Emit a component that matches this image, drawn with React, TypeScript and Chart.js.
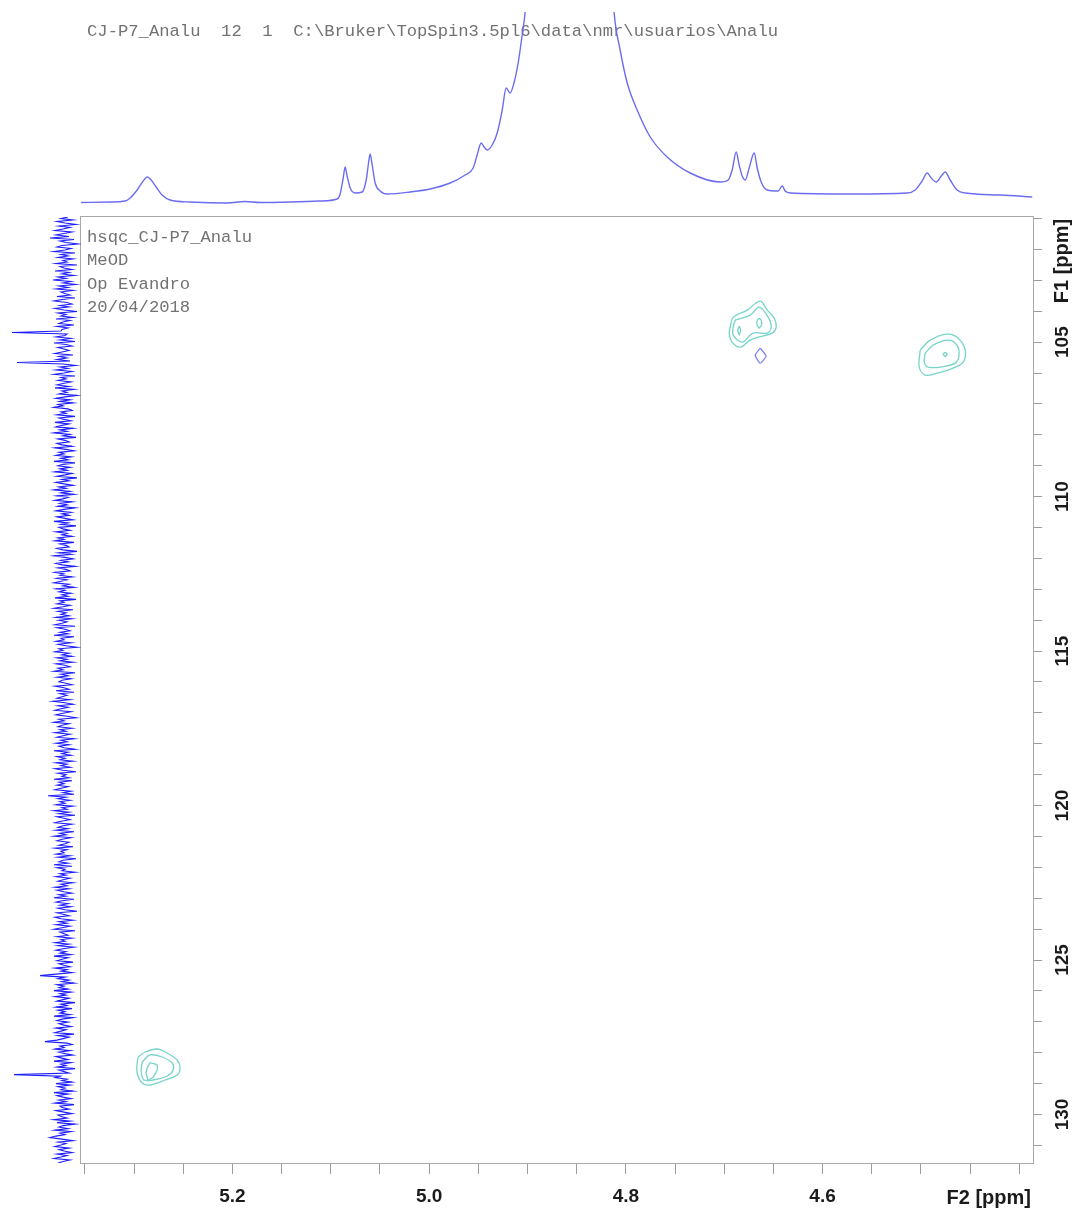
import React, { useEffect, useRef } from "react";
import { Chart, registerables } from "chart.js";

Chart.register(...registerables);

const PAGE_W = 1077;
const PAGE_H = 1210;

// ---- axis ranges (ppm) ----
const F2_MIN = 4.386;
const F2_MAX = 5.354;
const F1_MIN = 100.95;
const F1_MAX = 131.57;

// ---- ticks ----
const F2_TICKS = [5.35, 5.3, 5.25, 5.2, 5.15, 5.1, 5.05, 5.0, 4.95, 4.9, 4.85, 4.8, 4.75, 4.7, 4.65, 4.6, 4.55, 4.5, 4.45, 4.4];
const F2_LABEL_VALUES = [5.2, 5.0, 4.8, 4.6];
const F2_LABEL_TEXT = ["5.2", "5.0", "4.8", "4.6"];
const F1_TICKS = [101, 102, 103, 104, 105, 106, 107, 108, 109, 110, 111, 112, 113, 114, 115, 116, 117, 118, 119, 120, 121, 122, 123, 124, 125, 126, 127, 128, 129, 130, 131];
const F1_LABEL_VALUES = [105, 110, 115, 120, 125, 130];
const F1_LABEL_TEXT = ["105", "110", "115", "120", "125", "130"];
const F2_TITLE = "F2 [ppm]";
const F1_TITLE = "F1 [ppm]";

// ---- texts ----
const HEADER = "CJ-P7_Analu  12  1  C:\\Bruker\\TopSpin3.5pl6\\data\\nmr\\usuarios\\Analu";
const INFO_LINES = ["hsqc_CJ-P7_Analu", "MeOD", "Op Evandro", "20/04/2018"];

// ---- 1H projection (top) ----
const H1_PPM = [
  5.3539, 5.3244, 5.3091, 5.304, 5.2969, 5.2908, 5.2867, 5.2827, 5.2776, 5.2715, 5.2634, 5.243, 5.2054, 5.1871, 5.1718, 5.1413,
  5.1108, 5.0935, 5.0905, 5.0874, 5.0854, 5.0834, 5.0803, 5.0752, 5.0681, 5.064, 5.0615, 5.06, 5.0579, 5.0549, 5.0498, 5.0427,
  5.0193, 4.999, 4.9786, 4.9634, 4.9552, 4.9512, 4.9471, 4.9441, 4.941, 4.9359, 4.9308, 4.9257, 4.9217, 4.9176, 4.9135, 4.9095,
  4.9054, 4.9024, 4.8973, 4.8871, 4.8719, 4.8586, 4.8464, 4.8261, 4.8159, 4.8119, 4.8058, 4.7986, 4.7885, 4.7752, 4.758, 4.7346,
  4.7041, 4.6959, 4.6919, 4.6878, 4.6848, 4.6817, 4.6786, 4.6746, 4.6695, 4.6664, 4.6624, 4.6563, 4.6451, 4.641, 4.638, 4.6329,
  4.5719, 4.5139, 4.5058, 4.4987, 4.4936, 4.4895, 4.4844, 4.4793, 4.4753, 4.4702, 4.4631, 4.4549, 4.4193, 4.3868,
];
const H1_INT = [
  7.5, 8, 9, 12, 20, 29, 33, 30, 23, 15, 10, 8, 7, 8.5, 7.5, 8,
  9, 11, 16, 32, 43, 34, 22, 17, 18, 30, 48, 56, 45, 27, 19, 16,
  18, 21, 27, 35, 42, 55, 67, 63, 60, 65, 77, 100, 122, 117, 128, 147,
  175, 198, 280, 500, 1200, 2000, 1100, 400, 260, 197, 160, 127, 100, 73, 53, 37,
  28, 30, 40, 58, 45, 34, 30, 42, 57, 42, 28, 20, 19, 24, 19, 17,
  16, 17, 20, 29, 37, 32, 28, 34, 38, 30, 20, 17, 15, 13,
];
const H1_INT_MAX = 198;

// ---- 13C projection (left), uniformly sampled along F1 ----
const F1_PROJ_START = 100.95;
const F1_PROJ_STEP = 0.04853;
const C13_INT = [
  13, 20, 8, 24, 16, 5, 22, 11, 18, 26,
  9, 17, 25, 12, 31, 7, 21, 15, 3, 19,
  24, 10, 16, 27, 6, 20, 13, 23, 8, 18,
  14, 25, 4, 21, 17, 9, 26, 12, 19, 7,
  23, 15, 28, 10, 18, 5, 22, 13, 25, 8,
  20, 16, 11, 24, 6, 19, 27, 14, 9, 21,
  12, 26, 17, 4, 23, 15, 20, 8, 25, 11,
  18, 22, 7, 24, 13, 19, 20, 69, 14, 16,
  25, 10, 21, 6, 27, 15, 9, 23, 17, 12,
  19, 26, 8, 22, 14, 24, 11, 64, 18, 5,
  21, 13, 25, 9, 17, 27, 6, 20, 15, 23,
  10, 18, 24, 12, 26, 7, 19, 14, 22, 4,
  16, 25, 11, 21, 8, 23, 18, 27, 13, 9,
  20, 15, 24, 6, 22, 17, 10, 26, 12, 19,
  25, 8, 21, 14, 27, 11, 18, 5, 23, 16,
  12, 24, 19, 9, 26, 15, 7, 22, 17, 25,
  10, 20, 13, 27, 6, 18, 23, 11, 21, 14,
  26, 9, 16, 24, 4, 19, 12, 25, 17, 8,
  22, 15, 27, 11, 20, 7, 24, 13, 18, 26,
  9, 21, 14, 23, 6, 17, 25, 10, 19, 12,
  24, 16, 8, 27, 13, 20, 5, 22, 18, 11,
  25, 14, 19, 9, 23, 17, 26, 7, 21, 15,
  12, 24, 18, 4, 22, 10, 27, 16, 8, 20,
  13, 25, 19, 6, 23, 15, 11, 26, 17, 21,
  9, 24, 14, 20, 27, 12, 18, 7, 25, 16,
  22, 10, 19, 13, 26, 5, 21, 17, 24, 11,
  18, 27, 8, 23, 15, 20, 12, 25, 9, 22,
  14, 19, 26, 6, 24, 16, 11, 21, 13, 27,
  7, 20, 17, 25, 10, 23, 15, 4, 22, 18,
  26, 12, 19, 9, 24, 14, 21, 8, 25, 16,
  11, 23, 18, 27, 6, 20, 13, 24, 10, 19,
  22, 15, 9, 26, 17, 12, 25, 7, 21, 14,
  19, 24, 11, 28, 16, 8, 23, 13, 20, 26,
  10, 18, 25, 14, 5, 22, 17, 27, 12, 19,
  23, 9, 21, 15, 26, 11, 18, 24, 7, 20,
  14, 25, 12, 22, 17, 6, 27, 13, 19, 10,
  24, 16, 21, 8, 25, 14, 20, 11, 26, 18,
  5, 23, 15, 19, 12, 27, 9, 22, 17, 24,
  13, 20, 26, 10, 18, 7, 33, 15, 23, 11,
  21, 16, 25, 8, 19, 14, 27, 12, 22, 6,
  24, 17, 11, 20, 26, 9, 18, 23, 13, 25,
  7, 21, 15, 27, 10, 19, 24, 12, 16, 22,
  8, 26, 14, 20, 17, 25, 11, 23, 5, 18,
  22, 13, 27, 9, 24, 16, 19, 6, 21, 15,
  25, 11, 18, 23, 8, 20, 14, 26, 12, 24,
  17, 9, 22, 15, 27, 7, 19, 25, 13, 21,
  10, 23, 16, 4, 24, 18, 12, 26, 20, 8,
  22, 14, 25, 11, 19, 27, 6, 21, 17, 13,
  24, 9, 20, 16, 26, 12, 23, 7, 18, 25,
  15, 21, 10, 27, 13, 19, 24, 8, 22, 17,
  11, 26, 14, 20, 9, 25, 41, 16, 23, 12,
  19, 7, 24, 17, 22, 13, 27, 10, 21, 15,
  26, 12, 18, 24, 6, 20, 14, 25, 9, 23,
  16, 21, 11, 27, 8, 19, 24, 13, 22, 17,
  10, 25, 15, 20, 26, 7, 23, 12, 18, 24,
  36, 14, 9, 21, 17, 26, 11, 22, 16, 8,
  25, 19, 13, 27, 10, 20, 15, 24, 6, 22,
  17, 12, 67, 21, 26, 14, 19, 9, 25, 11,
  23, 16, 20, 8, 27, 13, 24, 18, 10, 22,
  15, 26, 7, 21, 19, 12, 25, 17, 9, 23,
  20, 14, 27, 11, 24, 6, 18, 22, 13, 26,
  10, 21, 16, 25, 31, 19, 8, 23, 15, 20,
  26, 12, 22, 17, 9, 24, 14, 20, 27, 11,
  18, 23,
];
const C13_INT_MAX = 81;

// ---- HSQC contours: [F2 ppm, F1 ppm] ----
const CONTOUR_A_OUTER: [number, number][] = [
  [4.6939, 104.515], [4.6908, 104.191], [4.6766, 103.964], [4.6634, 103.673], [4.6563, 103.964], [4.6492, 104.223],
  [4.6471, 104.515], [4.6512, 104.709], [4.6654, 104.838], [4.6736, 104.935], [4.6837, 105.162], [4.6919, 105.0], [4.6949, 104.709],
];
const CONTOUR_A_MID: [number, number][] = [
  [4.6888, 104.288], [4.6736, 104.126], [4.6644, 103.867], [4.6553, 104.191], [4.6522, 104.515], [4.6563, 104.709],
  [4.6705, 104.709], [4.6817, 105.0], [4.6908, 104.773], [4.6908, 104.515],
];
const CONTOUR_A_INNER1: [number, number][] = [
  [4.6644, 104.223], [4.6624, 104.288], [4.6619, 104.434], [4.6644, 104.547], [4.6664, 104.45], [4.6664, 104.288],
];
const CONTOUR_A_INNER2: [number, number][] = [
  [4.6847, 104.482], [4.6832, 104.612], [4.6847, 104.773], [4.6863, 104.612],
];
const CONTOUR_NEG: [number, number][] = [
  [4.6634, 105.194], [4.6573, 105.453], [4.6634, 105.68], [4.6685, 105.421],
];
const CONTOUR_B_OUTER: [number, number][] = [
  [4.5007, 105.259], [4.4905, 104.935], [4.4733, 104.741], [4.4621, 104.871], [4.4549, 105.259],
  [4.457, 105.647], [4.4671, 105.841], [4.4834, 106.003], [4.4956, 106.068], [4.5017, 105.809],
];
const CONTOUR_B_MID: [number, number][] = [
  [4.4956, 105.356], [4.4875, 105.097], [4.4722, 104.935], [4.4633, 105.097], [4.4612, 105.421],
  [4.4651, 105.68], [4.4804, 105.809], [4.4926, 105.809], [4.4966, 105.647],
];
const CONTOUR_B_INNER: [number, number][] = [
  [4.4753, 105.324], [4.4733, 105.388], [4.4753, 105.469], [4.4773, 105.388],
];
const CONTOUR_C_OUTER: [number, number][] = [
  [5.2959, 128.139], [5.2888, 127.977], [5.2766, 127.88], [5.2664, 128.01], [5.2562, 128.236], [5.2532, 128.495],
  [5.2562, 128.722], [5.2684, 128.883], [5.2837, 129.045], [5.2918, 128.981], [5.2969, 128.657], [5.2969, 128.333],
];
const CONTOUR_C_MID: [number, number][] = [
  [5.2918, 128.301], [5.2837, 128.074], [5.2715, 128.139], [5.2613, 128.333], [5.2603, 128.56],
  [5.2664, 128.754], [5.2806, 128.883], [5.2898, 128.883], [5.2928, 128.625],
];
const CONTOUR_C_INNER: [number, number][] = [
  [5.2867, 128.495], [5.2837, 128.333], [5.2766, 128.398], [5.2766, 128.56], [5.2806, 128.786], [5.2857, 128.883], [5.2878, 128.657],
];

const POS_COLOR = "rgb(118, 212, 200)";
const NEG_COLOR = "rgb(130, 130, 238)";
const POSITIVE_CONTOURS = [
  CONTOUR_A_OUTER, CONTOUR_A_MID, CONTOUR_B_OUTER, CONTOUR_B_MID, CONTOUR_C_OUTER, CONTOUR_C_MID,
];
const POSITIVE_SMALL_CONTOURS = [CONTOUR_A_INNER1, CONTOUR_A_INNER2, CONTOUR_B_INNER, CONTOUR_C_INNER];
const NEGATIVE_CONTOURS = [CONTOUR_NEG];

const AXIS_COLOR = "#9c9c9c";
const TEXT_GRAY = "#727272";
const LABEL_COLOR = "#1b1b1b";
const MONO = '17.2px "Liberation Mono", "Courier New", "DejaVu Sans Mono", monospace';
const BOLD_SANS = (px: number) => `bold ${px}px "Liberation Sans", Arial, Helvetica, sans-serif`;

function closedLoop(pts: [number, number][]) {
  return pts.concat([pts[0]]).map(([x, y]) => ({ x, y }));
}

const framePlugin = {
  id: "frame",
  beforeDatasetsDraw(chart: any) {
    const { ctx, chartArea } = chart;
    ctx.save();
    ctx.strokeStyle = "#a8a8a8";
    ctx.lineWidth = 1;
    ctx.strokeRect(
      Math.round(chartArea.left) - 0.5,
      Math.round(chartArea.top) - 0.5,
      Math.round(chartArea.right - chartArea.left) + 1,
      Math.round(chartArea.bottom - chartArea.top) + 1
    );
    ctx.restore();
  },
};

const textPlugin = {
  id: "texts",
  afterDraw(chart: any) {
    const { ctx, chartArea } = chart;
    const xs = chart.scales.x;
    const ys = chart.scales.y;
    ctx.save();
    ctx.fillStyle = TEXT_GRAY;
    ctx.font = MONO;
    ctx.textAlign = "left";
    ctx.textBaseline = "alphabetic";
    ctx.fillText(HEADER, chartArea.left + 6, 36);
    INFO_LINES.forEach((t, i) => ctx.fillText(t, chartArea.left + 6, chartArea.top + 25 + i * 23.35));

    ctx.fillStyle = LABEL_COLOR;
    ctx.font = BOLD_SANS(19);
    ctx.textAlign = "center";
    F2_LABEL_VALUES.forEach((v, i) => ctx.fillText(F2_LABEL_TEXT[i], xs.getPixelForValue(v), chartArea.bottom + 39));
    ctx.font = BOLD_SANS(20);
    ctx.textAlign = "right";
    ctx.fillText(F2_TITLE, chartArea.right - 2, chartArea.bottom + 41);

    ctx.font = BOLD_SANS(19);
    ctx.textAlign = "center";
    F1_LABEL_VALUES.forEach((v, i) => {
      ctx.save();
      ctx.translate(chartArea.right + 35, ys.getPixelForValue(v));
      ctx.rotate(-Math.PI / 2);
      ctx.fillText(F1_LABEL_TEXT[i], 0, 0);
      ctx.restore();
    });
    ctx.font = BOLD_SANS(20);
    ctx.save();
    ctx.translate(chartArea.right + 35, chartArea.top + 44);
    ctx.rotate(-Math.PI / 2);
    ctx.fillText(F1_TITLE, 0, 0);
    ctx.restore();
    ctx.restore();
  },
};

export default function App() {
  const mainRef = useRef<HTMLCanvasElement>(null);
  const topRef = useRef<HTMLCanvasElement>(null);
  const leftRef = useRef<HTMLCanvasElement>(null);

  useEffect(() => {
    const plotLeft = 81;
    const plotTop = 217;
    const plotRight = 1033;
    const plotBottom = 1163;

    const mk = (c: [number, number][], color: string, tension: number) => ({
      data: closedLoop(c),
      showLine: true,
      borderColor: color,
      borderWidth: 1.3,
      pointRadius: 0,
      tension,
      fill: false,
    });
    const datasets: any[] = [
      ...POSITIVE_CONTOURS.map((c) => mk(c, POS_COLOR, 0.35)),
      ...POSITIVE_SMALL_CONTOURS.map((c) => mk(c, POS_COLOR, 0.15)),
      ...NEGATIVE_CONTOURS.map((c) => mk(c, NEG_COLOR, 0.15)),
    ];

    const main = new Chart(mainRef.current!, {
      type: "scatter",
      data: { datasets },
      options: {
        responsive: false,
        animation: false,
        devicePixelRatio: 1,
        layout: { padding: { left: plotLeft, top: plotTop, right: 0, bottom: 0 } },
        plugins: { legend: { display: false }, tooltip: { enabled: false } },
        scales: {
          x: {
            type: "linear",
            position: "bottom",
            reverse: true,
            min: F2_MIN,
            max: F2_MAX,
            afterBuildTicks: (s: any) => {
              s.ticks = F2_TICKS.map((v) => ({ value: v }));
            },
            afterFit: (s: any) => {
              s.height = PAGE_H - plotBottom;
            },
            ticks: { display: false, autoSkip: false },
            grid: { drawOnChartArea: false, drawTicks: true, tickLength: 11, color: AXIS_COLOR, lineWidth: 1 },
            border: { display: true, color: AXIS_COLOR, width: 1 },
          },
          y: {
            type: "linear",
            position: "right",
            reverse: true,
            min: F1_MIN,
            max: F1_MAX,
            afterBuildTicks: (s: any) => {
              s.ticks = F1_TICKS.map((v) => ({ value: v }));
            },
            afterFit: (s: any) => {
              s.width = PAGE_W - plotRight;
            },
            ticks: { display: false, autoSkip: false },
            grid: { drawOnChartArea: false, drawTicks: true, tickLength: 9, color: AXIS_COLOR, lineWidth: 1 },
            border: { display: true, color: AXIS_COLOR, width: 1 },
          },
        },
      } as any,
      plugins: [framePlugin, textPlugin],
    });

    const top = new Chart(topRef.current!, {
      type: "scatter",
      data: {
        datasets: [
          {
            data: H1_PPM.map((p, i) => ({ x: p, y: H1_INT[i] })),
            showLine: true,
            borderColor: "rgb(108, 108, 242)",
            borderWidth: 1.4,
            pointRadius: 0,
            cubicInterpolationMode: "monotone",
            fill: false,
          },
        ],
      },
      options: {
        responsive: false,
        animation: false,
        devicePixelRatio: 1,
        layout: { padding: { left: plotLeft, right: PAGE_W - plotRight, top: 12, bottom: 7 } },
        plugins: { legend: { display: false }, tooltip: { enabled: false } },
        scales: {
          x: { type: "linear", display: false, reverse: true, min: F2_MIN, max: F2_MAX },
          y: { type: "linear", display: false, min: 0, max: H1_INT_MAX },
        },
      } as any,
    });

    const left = new Chart(leftRef.current!, {
      type: "scatter",
      data: {
        datasets: [
          {
            data: C13_INT.map((v, i) => ({ x: v, y: F1_PROJ_START + i * F1_PROJ_STEP })),
            showLine: true,
            borderColor: "rgb(30, 30, 250)",
            borderWidth: 1.1,
            pointRadius: 0,
            fill: false,
          },
        ],
      },
      options: {
        responsive: false,
        animation: false,
        devicePixelRatio: 1,
        layout: { padding: 0 },
        plugins: { legend: { display: false }, tooltip: { enabled: false } },
        scales: {
          x: { type: "linear", display: false, reverse: true, min: 0, max: C13_INT_MAX },
          y: { type: "linear", display: false, reverse: true, min: F1_MIN, max: F1_MAX },
        },
      } as any,
    });

    return () => {
      main.destroy();
      top.destroy();
      left.destroy();
    };
  }, []);

  return (
    <div style={{ position: "absolute", left: 0, top: 0, width: PAGE_W, height: PAGE_H, background: "#fff" }}>
      <canvas ref={mainRef} width={PAGE_W} height={PAGE_H} style={{ position: "absolute", left: 0, top: 0, width: PAGE_W, height: PAGE_H }} />
      <canvas ref={topRef} width={PAGE_W} height={217} style={{ position: "absolute", left: 0, top: 0, width: PAGE_W, height: 217 }} />
      <canvas ref={leftRef} width={81} height={946} style={{ position: "absolute", left: 0, top: 217, width: 81, height: 946 }} />
    </div>
  );
}
